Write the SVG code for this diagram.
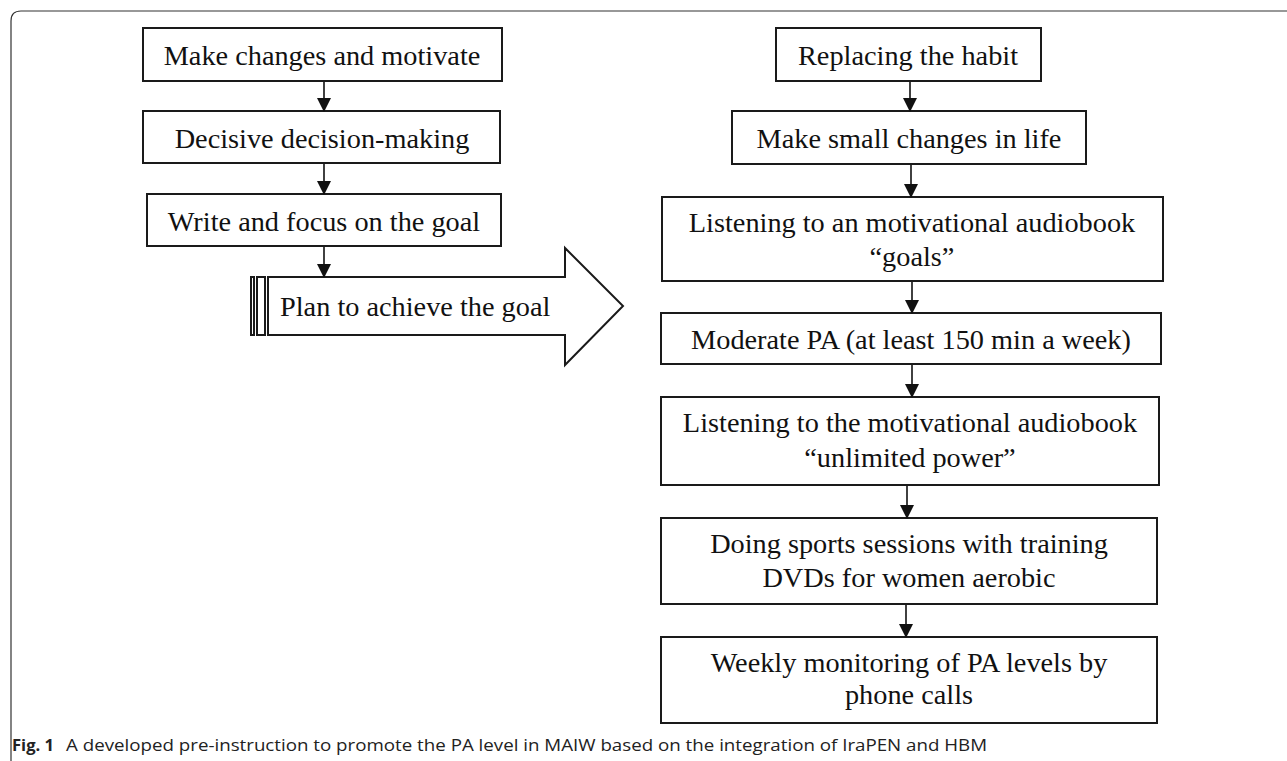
<svg xmlns="http://www.w3.org/2000/svg" width="1287" height="761" viewBox="0 0 1287 761">
<defs>
<style>
.box{fill:#fff;stroke:#1a1a1a;stroke-width:2}
.t{font-family:"Liberation Serif","Times New Roman",serif;font-size:28.3px;fill:#111;text-anchor:middle}
.tl{font-family:"Liberation Serif","Times New Roman",serif;font-size:28.3px;fill:#111}
.conn{stroke:#111;stroke-width:1.6;fill:none;marker-end:url(#ah)}
.cap{font-family:"Open Sans","Noto Sans",sans-serif;font-size:16.5px;fill:#222}
</style>
<marker id="ah" markerWidth="14" markerHeight="14" refX="13" refY="7" orient="auto" markerUnits="userSpaceOnUse">
<path d="M0,0 L14,7 L0,14 Z" fill="#111"/>
</marker>
</defs>
<rect width="1287" height="761" fill="#fff"/>
<path d="M11,761 L11,21 Q11,11 21,11 L1287,11" fill="none" stroke="#333" stroke-width="1.2"/>

<g id="n1"><rect class="box" x="143" y="28" width="359" height="53"/><text class="t" x="322" y="65">Make changes and motivate</text></g>
<g id="n2"><rect class="box" x="143" y="111" width="357" height="52"/><text class="t" x="322" y="148">Decisive decision-making</text></g>
<g id="n3"><rect class="box" x="147" y="194" width="354" height="52"/><text class="t" x="324" y="231">Write and focus on the goal</text></g>
<g id="n4">
<rect class="box" x="251" y="277" width="3" height="58" stroke-width="1.5"/>
<rect class="box" x="257" y="277" width="8" height="58" stroke-width="1.5"/>
<path class="box" d="M268,277 L565,277 L565,248 L623,306 L565,365 L565,335 L268,335 Z"/>
<text class="tl" x="280" y="316">Plan to achieve the goal</text>
</g>

<g id="r1"><rect class="box" x="776" y="28" width="265" height="53"/><text class="t" x="908" y="65">Replacing the habit</text></g>
<g id="r2"><rect class="box" x="732" y="111" width="354" height="53"/><text class="t" x="909" y="148">Make small changes in life</text></g>
<g id="r3"><rect class="box" x="662" y="197" width="501" height="84"/><text class="t" x="912" y="232">Listening to an motivational audiobook</text><text class="t" x="912" y="266">“goals”</text></g>
<g id="r4"><rect class="box" x="661" y="313" width="500" height="51"/><text class="t" x="911" y="349">Moderate PA (at least 150 min a week)</text></g>
<g id="r5"><rect class="box" x="661" y="397" width="498" height="88"/><text class="t" x="910" y="432">Listening to the motivational audiobook</text><text class="t" x="910" y="467">“unlimited power”</text></g>
<g id="r6"><rect class="box" x="661" y="518" width="496" height="86"/><text class="t" x="909" y="553">Doing sports sessions with training</text><text class="t" x="909" y="587">DVDs for women aerobic</text></g>
<g id="r7"><rect class="box" x="661" y="637" width="496" height="86"/><text class="t" x="909" y="672">Weekly monitoring of PA levels by</text><text class="t" x="909" y="704">phone calls</text></g>

<g id="connectors">
<line class="conn" x1="324" y1="82" x2="324" y2="111"/>
<line class="conn" x1="324" y1="164" x2="324" y2="194"/>
<line class="conn" x1="324" y1="247" x2="324" y2="277"/>
<line class="conn" x1="910" y1="82" x2="910" y2="111"/>
<line class="conn" x1="911" y1="165" x2="911" y2="197"/>
<line class="conn" x1="912" y1="282" x2="912" y2="313"/>
<line class="conn" x1="912" y1="365" x2="912" y2="397"/>
<line class="conn" x1="907" y1="486" x2="907" y2="518"/>
<line class="conn" x1="906" y1="605" x2="906" y2="637"/>
</g>

<g id="caption">
<text class="cap" x="12" y="751" font-weight="bold" font-size="17" textLength="42" lengthAdjust="spacingAndGlyphs">Fig. 1</text>
<text class="cap" x="66" y="751" textLength="921" lengthAdjust="spacingAndGlyphs">A developed pre-instruction to promote the PA level in MAIW based on the integration of IraPEN and HBM</text>
</g>
</svg>
